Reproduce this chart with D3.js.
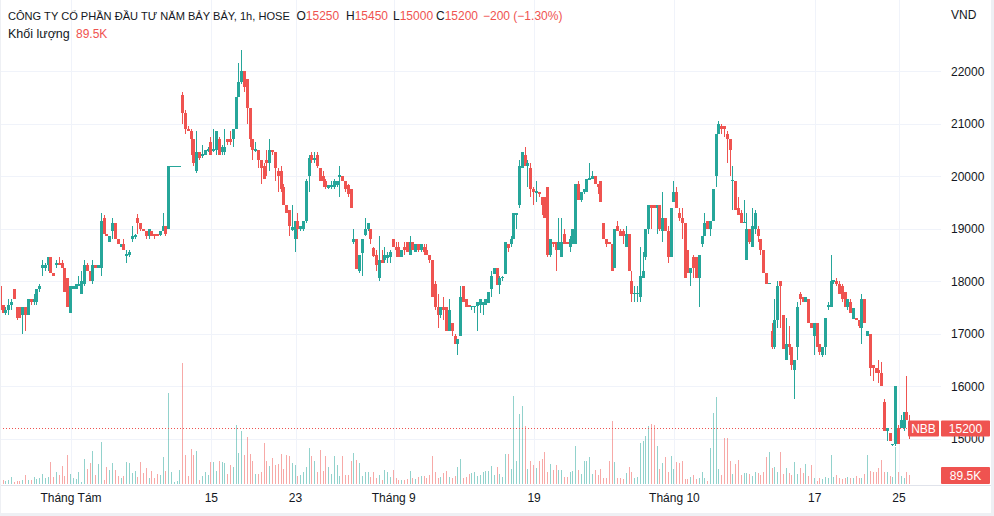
<!DOCTYPE html>
<html><head><meta charset="utf-8">
<script src="https://cdn.jsdelivr.net/npm/d3@7/dist/d3.min.js"></script>
<style>
html,body{margin:0;padding:0;background:#fff;}
svg{display:block;}
text{font-family:"Liberation Sans",Arial,sans-serif;}
</style></head><body>
<svg id="chart" width="994" height="516"></svg>
<script>
// ---------- DATA (hourly bars, NBB, HOSE) ----------
const opens=[
17900,17550,17400,17450,17550,17850,17500,17500,17350,17500,
17350,17650,17600,17600,17850,18250,18250,18300,18450,18150,
18300,18350,18350,18250,18050,17400,17850,17850,17900,17750,
17950,18300,18200,18000,18300,18250,18250,19200,18900,18750,
18950,19100,18800,18650,18700,18480,18500,18800,18830,19200,
19100,19000,18950,18850,18950,18900,18900,18880,18950,19050,
19000,20200,20200,20200,20200,21550,21200,20900,20850,20700,
20100,20450,20380,20400,20480,20650,20480,20500,20700,20450,
20450,20700,20700,20700,20900,21500,21800,22000,21850,21300,
20700,20480,20500,20300,20200,20300,20250,20500,20450,20100,
20100,19800,19450,19350,18980,18800,19150,19000,19000,19150,
20000,20400,20300,20400,20150,20000,19900,19780,19800,19800,
19830,19980,20000,19900,19830,19750,18750,18800,18200,18530,
18880,19000,19000,18620,18500,18050,18400,18400,18430,18460,
18800,18650,18650,18450,18650,18750,18500,18750,18550,18700,
18600,18650,18600,18500,18400,17950,17500,17350,17500,17500,
17050,17200,16950,16800,16950,17900,17650,17550,17500,17500,
17520,17550,17550,17550,17580,17850,18130,18250,17920,18050,
18130,18700,18700,18800,19250,19450,20150,20400,20200,20150,
19750,19680,19700,19600,19600,19800,18500,18750,18750,18600,
18450,18900,18750,18650,18700,18700,19850,19550,19700,19700,
19930,19950,20000,19850,19900,19100,18800,18750,18700,18250,
19050,18950,18950,18650,18900,18000,17750,17750,17700,18050,
18450,19000,19450,19450,19400,19450,18950,19200,18950,18450,
19500,19700,19300,19200,19100,18600,18150,18450,18450,18050,
18700,18850,19150,19000,19150,20000,20800,20950,20950,20800,
20700,19900,19900,19400,19300,19100,18400,19000,18650,19000,
19000,18800,18600,18150,17940,17050,16750,17250,18000,17350,
16500,16800,16750,16300,16750,17750,17700,17600,17650,17200,
16950,17200,16800,16600,16750,17500,17500,17990,18000,17950,
17900,17800,17500,17600,17280,17300,17250,17100,17650,16950,
17000,16400,16350,16300,16250,15700,15150,15100,14900,14900,
15200,15200,15200,15500,15250];
const highs=[
17950,17550,17500,17650,17650,17850,17500,17500,17500,17500,
17650,17650,17750,17850,17950,18400,18350,18450,18450,18150,
18400,18450,18400,18250,18050,17900,17900,17950,18100,18200,
18400,18350,18200,18400,18300,18300,19300,19250,18900,18850,
19200,19100,18800,18700,18800,18600,18600,19050,18900,19270,
19100,19000,18950,19000,18950,18900,18900,18950,19300,19050,
20200,20200,20200,20200,20200,21600,21250,20950,20900,20700,
20850,20450,20600,20500,20550,20750,20900,20850,20750,20600,
20900,20700,20850,20900,21500,22150,22400,22000,21850,21300,
20700,20650,20500,20300,20250,20500,20700,20500,20450,20150,
20200,19850,19450,19350,19450,19150,19300,19050,19150,19950,
20400,20450,20450,20450,20150,20100,19950,19830,19900,19950,
19900,20200,20000,19900,19850,19750,19000,18800,18500,18800,
19200,19100,19000,18650,18600,18850,18600,18650,18550,18600,
18800,18750,18750,18600,18750,18750,18850,18750,18700,18700,
18700,18700,18700,18500,18400,18000,17750,17500,17700,17500,
17650,17200,17000,16900,17900,17900,17650,17550,17520,17520,
17600,17650,17600,17650,17800,18200,18250,18250,18100,18100,
18750,18700,18850,19300,19300,20300,20450,20550,20300,20250,
19800,19900,19700,19600,19600,19800,18800,18750,18750,19200,
19200,19000,18750,18850,19000,19850,19900,19700,19750,19950,
20250,20100,20000,19850,19900,19100,18800,18750,18700,19000,
19150,19000,19000,19050,18900,18200,17900,17900,18650,18550,
19000,19450,19450,19450,19450,19450,19700,19200,19050,19400,
19900,19800,19400,19400,19100,18600,18250,18500,18450,18500,
18850,19300,19150,19150,19750,20800,21050,21000,20950,20850,
20700,20200,19900,19600,19350,19550,19300,19000,19400,19350,
19050,18800,18600,18150,17960,17200,17650,18000,18000,17350,
17300,17150,16750,16500,17600,17800,17700,17700,17650,17200,
17200,17200,16800,16750,17300,17600,18500,18010,18050,18000,
17950,17800,17650,17650,17480,17300,17250,17750,17650,17050,
17000,16400,16350,16500,16450,15750,15200,15100,14900,16000,
15250,15450,15500,16200,15450];
const lows=[
17400,17400,17350,17350,17450,17650,17250,17300,17000,17050,
17350,17550,17550,17550,17800,18100,18200,18200,18150,18100,
18250,18300,18250,17800,17500,17400,17850,17850,17900,17750,
17900,18200,18000,17950,18250,18250,18100,18900,18850,18750,
18800,18800,18700,18650,18600,18350,18450,18750,18800,18900,
18950,18950,18800,18800,18850,18800,18850,18850,18950,18850,
19000,20200,20200,20200,20200,21000,20800,20850,20400,20200,
20050,20300,20350,20400,20450,20400,20450,20400,20400,20400,
20400,20600,20600,20550,20900,21500,21750,21600,21000,20550,
20300,20450,20150,19850,19950,20000,20100,20400,19900,19700,
19700,19450,19300,18850,18950,18550,18800,18950,18950,19100,
19700,20250,20250,20150,19900,19800,19750,19750,19750,19750,
19800,19600,19900,19700,19600,19400,18700,18230,18150,18100,
18850,18950,18700,18450,18200,18000,18350,18350,18350,18350,
18650,18450,18450,18450,18500,18550,18500,18600,18550,18550,
18550,18500,18500,18350,17700,17450,17100,17300,17250,17050,
17050,16950,16800,16600,16950,17600,17500,17500,17450,17400,
17050,17400,17350,17550,17580,17700,18130,17920,17750,18000,
18130,18550,18650,18800,19000,19400,20150,20200,19800,19600,
19450,19500,19600,19250,19200,18450,18450,18650,18200,18600,
18450,18700,18700,18550,18700,18700,19550,19500,19650,19700,
19930,19950,19850,19650,19500,18800,18650,18700,18200,18250,
18950,18850,18700,18650,18200,17600,17600,17600,17600,18050,
18400,18900,19000,19400,18900,18950,18750,18950,18350,18450,
19500,19400,19150,18800,18050,18150,17900,18050,18050,17500,
18650,18850,19000,18850,19150,19800,20800,20800,20750,20250,
20000,19350,19350,19250,19100,19100,18400,18700,18650,18900,
18750,18500,18150,17950,17940,16700,16700,17100,17100,16700,
16500,16600,16300,15750,16500,17550,17600,17600,17200,17100,
16600,16750,16600,16550,16600,17450,17500,17950,17900,17750,
17600,17500,17450,17400,17280,17250,17100,16800,17200,16950,
16200,16100,16250,16050,16000,15150,14950,14950,14850,14850,
14900,15200,15150,15350,15000];
const closes=[
17450,17400,17450,17550,17600,17650,17300,17300,17500,17350,
17650,17600,17650,17850,17900,18300,18300,18450,18150,18100,
18350,18300,18250,17800,17500,17900,17900,17950,17950,18000,
18300,18200,18000,18300,18250,18300,19150,18900,18850,18850,
19100,18800,18700,18700,18600,18520,18550,18850,18870,19100,
19000,18950,18850,19000,18850,18850,18850,18950,19050,18900,
20200,20200,20200,20200,20200,21200,20900,20850,20700,20250,
20450,20350,20420,20500,20520,20400,20520,20850,20400,20550,
20550,20650,20650,20900,21500,21800,22000,21700,21300,20700,
20500,20520,20300,20150,19950,20250,20500,20450,20150,20000,
19750,19450,19300,19050,19020,19150,19000,19050,19150,19900,
20350,20300,20350,20200,19900,19900,19800,19820,19820,19900,
19900,20010,19900,19750,19650,19400,18800,18230,18500,18800,
19000,19100,18800,18480,18300,18400,18350,18500,18500,18560,
18650,18600,18450,18600,18600,18550,18750,18600,18700,18600,
18700,18550,18500,18400,17700,17500,17350,17500,17450,17050,
17450,17050,16800,16900,17700,17600,17500,17500,17520,17520,
17600,17650,17600,17650,17800,18100,18250,17920,18050,18080,
18750,18620,18800,19300,19300,20200,20450,20200,20250,19750,
19700,19720,19650,19450,19200,18500,18800,18700,18600,18750,
18750,18700,18700,18800,19000,19850,19550,19700,19750,19950,
19970,20000,19850,19800,19500,18800,18700,18700,18200,19000,
18950,18850,18850,18900,18200,17750,17770,17770,18100,18200,
19000,19450,19400,19400,19450,19000,19200,18950,18450,19400,
19700,19400,19200,19100,18050,18150,18250,18250,18050,18500,
18850,19100,19000,19150,19750,20800,21000,20900,20900,20700,
20500,19920,19350,19250,19100,19120,19000,18750,19050,19300,
18850,18600,18150,17950,17960,16750,17250,17900,17900,16700,
16800,16750,16400,16500,17500,17650,17600,17700,17200,17100,
17200,16750,16650,16750,17300,17550,18000,18010,17950,17750,
17650,17500,17650,17400,17480,17250,17150,17650,17200,17050,
16350,16350,16250,16250,16000,15150,15200,14950,14900,16000,
14900,15350,15500,15350,15200];
// volume in thousands of shares
const volumes=[
150,40,30,37,70,23,30,35,40,90,
40,45,70,50,63,97,60,70,223,73,
117,90,183,80,290,103,63,50,123,23,
250,150,207,330,90,197,416,40,173,140,
207,140,83,60,83,216,207,107,130,70,
216,107,157,63,130,60,97,90,266,130,
906,117,23,30,140,1210,290,83,346,290,
330,40,80,123,90,223,223,130,230,216,
207,100,190,173,590,313,530,290,470,303,
230,103,103,120,406,230,183,256,190,197,
303,150,290,283,207,190,80,90,123,173,
363,280,230,120,340,130,276,173,100,283,
190,83,280,90,90,230,310,236,207,80,
123,117,70,123,60,90,40,137,123,70,
140,63,40,40,45,50,130,63,50,73,
83,83,60,90,283,123,63,70,107,130,
70,60,83,173,250,63,70,103,107,123,
80,90,117,130,130,183,90,173,97,73,
296,296,150,883,230,700,783,580,150,230,
190,157,230,250,316,120,197,140,190,137,
140,70,73,123,130,380,140,100,230,230,
270,100,140,90,150,60,63,230,630,223,
60,57,50,107,170,123,60,73,406,430,
476,576,603,590,383,150,210,273,123,276,
150,223,207,230,50,50,70,90,50,60,
123,63,30,363,706,870,150,90,463,463,
230,100,203,236,90,107,107,103,80,117,
107,90,120,273,323,163,170,120,323,100,
157,107,90,223,100,157,107,197,80,190,
57,30,57,50,73,63,290,73,90,60,
50,57,73,63,60,83,57,63,100,290,
130,123,123,157,236,123,123,80,73,373,
123,83,60,117,89.5];

const priceTicks=[15000,16000,17000,18000,19000,20000,21000,22000];
const timeTickIndex=[25,75,105,140,190,240,290,320];
const timeTickLabels=["Tháng Tám","15","23","Tháng 9","19","Tháng 10","17","25"];
const titleText="CÔNG TY CỔ PHẦN ĐẦU TƯ NĂM BẢY BẢY, 1h, HOSE";
const legendKeys=["O","H","L","C"];
const legendVals=["15250","15450","15000","15200"];
const changeText="−200 (−1.30%)";
const volumeLabel="Khối lượng";
const volumeText="89.5K";
const symbol="NBB";
const currency="VND";

// ---------- DRAW ----------
const UP="#26a69a", DOWN="#ef5350", TXT="#131722", GRID="#f0f3fa";
const svg=d3.select("#chart");
const N=opens.length;
const idx=d3.range(N);
const isUp=i=>closes[i]>=opens[i];

const x=d3.scaleLinear().domain([25,N-1]).range([71,910.2]);
const y=d3.scaleLinear().domain([15000,22000]).range([438.5,71]);
const yv=d3.scaleLinear().domain([0,1210]).range([484,363]);
const plotRight=941;

svg.append("rect").attr("width",994).attr("height",516).attr("fill","#fff");

// grid
svg.append("g").selectAll("line").data(priceTicks).join("line")
  .attr("x1",0).attr("x2",plotRight)
  .attr("y1",d=>Math.round(y(d))+0.5).attr("y2",d=>Math.round(y(d))+0.5)
  .attr("stroke",GRID).attr("stroke-width",1);
svg.append("g").selectAll("line").data(timeTickIndex).join("line")
  .attr("x1",d=>Math.round(x(d))+0.5).attr("x2",d=>Math.round(x(d))+0.5)
  .attr("y1",0).attr("y2",485)
  .attr("stroke",GRID).attr("stroke-width",1);

// volume
svg.append("g").attr("shape-rendering","crispEdges").selectAll("rect").data(idx).join("rect")
  .attr("x",i=>Math.round(x(i))-1).attr("width",1)
  .attr("y",i=>yv(volumes[i])).attr("height",i=>yv(0)-yv(volumes[i]))
  .attr("fill",i=>isUp(i)?"rgba(38,166,154,0.5)":"rgba(239,83,80,0.5)");

// last price dotted line
svg.append("line").attr("x1",0).attr("x2",908)
  .attr("y1",Math.round(y(closes[N-1]))+0.5).attr("y2",Math.round(y(closes[N-1]))+0.5)
  .attr("stroke",DOWN).attr("stroke-width",1).attr("stroke-dasharray","1,2");

// candles
const cg=svg.append("g").attr("shape-rendering","crispEdges");
cg.selectAll("rect.w").data(idx).join("rect").attr("class","w")
  .attr("x",i=>Math.round(x(i))-1).attr("width",1)
  .attr("y",i=>y(highs[i])).attr("height",i=>Math.max(1,y(lows[i])-y(highs[i])))
  .attr("fill",i=>isUp(i)?UP:DOWN);
cg.selectAll("rect.b").data(idx).join("rect").attr("class","b")
  .attr("x",i=>Math.round(x(i))-2).attr("width",3)
  .attr("y",i=>y(Math.max(opens[i],closes[i])))
  .attr("height",i=>Math.max(1,Math.abs(y(opens[i])-y(closes[i]))))
  .attr("fill",i=>isUp(i)?UP:DOWN);

// frame / separators
svg.append("line").attr("x1",0).attr("x2",991).attr("y1",485.5).attr("y2",485.5).attr("stroke","#e0e3eb");
svg.append("rect").attr("x",991).attr("y",0).attr("width",3).attr("height",516).attr("fill","#eef0f4");
svg.append("rect").attr("x",0).attr("y",513).attr("width",994).attr("height",3).attr("fill","#eef0f4");
svg.append("rect").attr("x",0).attr("y",0).attr("width",1).attr("height",516).attr("fill","#eef0f4");

// price axis labels (the lowest one sits under the last-price tag, as in the original)
svg.append("g").selectAll("text").data(priceTicks).join("text")
  .attr("x",951).attr("y",d=>y(d)+4.5).attr("font-size",12).attr("fill",TXT)
  .text(d=>d);
svg.append("text").attr("x",951).attr("y",19).attr("font-size",12).attr("fill",TXT).text(currency);

// time axis labels
svg.append("g").selectAll("text").data(timeTickIndex).join("text")
  .attr("x",d=>x(d)).attr("y",502).attr("text-anchor","middle")
  .attr("font-size",12).attr("fill",TXT)
  .text((d,i)=>timeTickLabels[i]);

// last price labels
const ly=y(closes[N-1]);
svg.append("rect").attr("x",908).attr("y",ly-7.5).attr("width",31).attr("height",16).attr("rx",1).attr("fill",DOWN);
svg.append("text").attr("x",923.5).attr("y",ly+4.5).attr("text-anchor","middle").attr("font-size",12).attr("fill","#fff").text(symbol);
svg.append("rect").attr("x",941).attr("y",ly-7.5).attr("width",49).attr("height",16).attr("rx",1).attr("fill",DOWN);
svg.append("text").attr("x",965.5).attr("y",ly+4.5).attr("text-anchor","middle").attr("font-size",12).attr("fill","#fff").text(closes[N-1]);
const vy=yv(volumes[N-1]);
svg.append("rect").attr("x",941).attr("y",vy-8).attr("width",49).attr("height",17).attr("rx",1).attr("fill",DOWN);
svg.append("text").attr("x",965.5).attr("y",vy+4.5).attr("text-anchor","middle").attr("font-size",12).attr("fill","#fff").text(volumeText);

// legend / header
const t1=svg.append("text").attr("x",8).attr("y",20).attr("font-size",13).attr("fill",TXT).text(titleText);
const L=t1.node().getComputedTextLength();
t1.attr("font-size",13*282/L);
const keyX=[296.5,346,393,436];
legendKeys.forEach((k,i)=>{
  const t=svg.append("text").attr("x",keyX[i]).attr("y",20).attr("font-size",12);
  t.append("tspan").attr("fill",TXT).text(k);
  t.append("tspan").attr("fill",DOWN).text(legendVals[i]);
});
svg.append("text").attr("x",483).attr("y",20).attr("font-size",12).attr("fill",DOWN).text(changeText);
svg.append("text").attr("x",8).attr("y",37.5).attr("font-size",12.5).attr("fill",TXT).text(volumeLabel);
svg.append("text").attr("x",76).attr("y",37.5).attr("font-size",12).attr("fill",DOWN).text(volumeText);
</script>
</body></html>
